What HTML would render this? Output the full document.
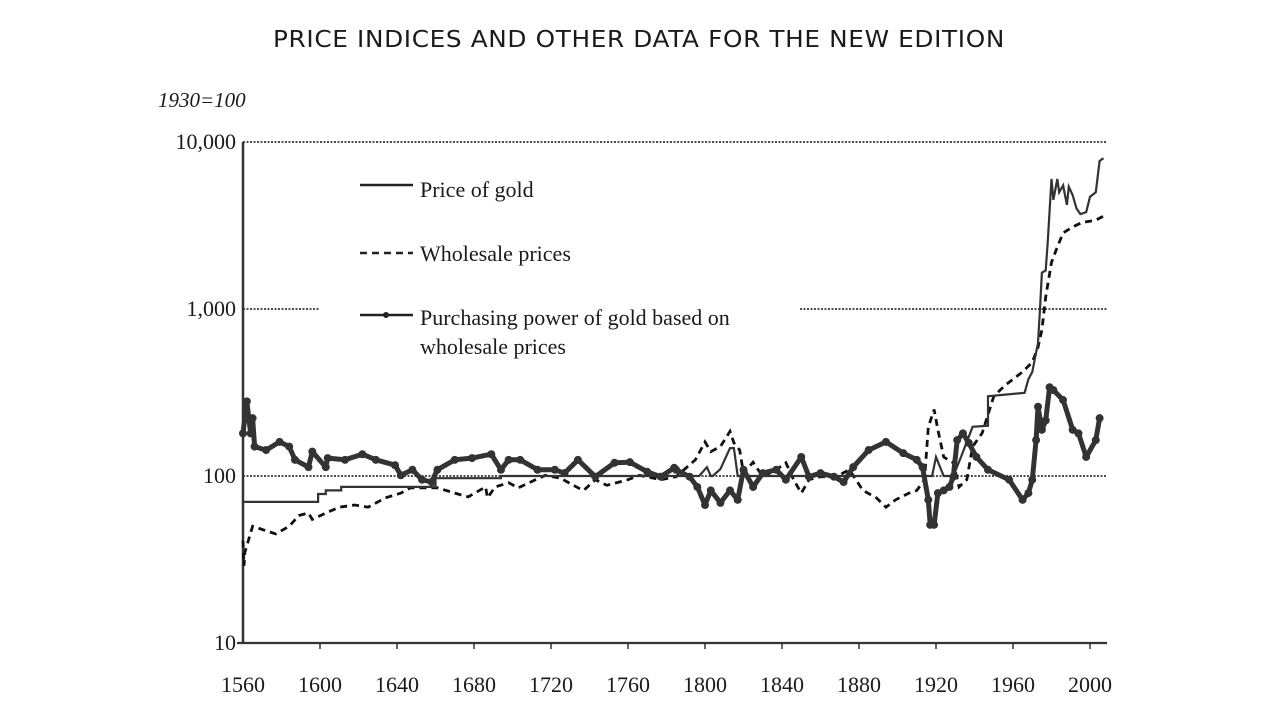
<!DOCTYPE html>
<html><head><meta charset="utf-8">
<style>
html,body{margin:0;padding:0;background:#fff;}
svg{display:block;}
.s{font-family:"Liberation Serif",serif;fill:#1a1a1a;}
</style></head>
<body>
<svg id="chart" width="1280" height="720" viewBox="0 0 1280 720">
<text x="639" y="47" text-anchor="middle" font-family="'DejaVu Sans','Liberation Sans',sans-serif" font-size="23" letter-spacing="0.6" fill="#1a1a1a" textLength="732" lengthAdjust="spacingAndGlyphs">PRICE INDICES AND OTHER DATA FOR THE NEW EDITION</text>
<text x="158" y="107" class="s" font-size="21" font-style="italic">1930=100</text>
<g id="grid"></g>
<g id="axes"></g>
<g id="series"></g>
<g>
  <line x1="360" y1="185" x2="413" y2="185" stroke="#222" stroke-width="2.5"/>
  <text x="420" y="197" class="s" font-size="22">Price of gold</text>
  <line x1="360" y1="253" x2="413" y2="253" stroke="#222" stroke-width="2.5" stroke-dasharray="7,5"/>
  <text x="420" y="261" class="s" font-size="22">Wholesale prices</text>
  <line x1="360" y1="315" x2="413" y2="315" stroke="#222" stroke-width="2.5"/>
  <circle cx="386" cy="315" r="3" fill="#222"/>
  <text x="420" y="325" class="s" font-size="22">Purchasing power of gold based on</text>
  <text x="420" y="354" class="s" font-size="22">wholesale prices</text>
</g>
</svg>
<script>
const xTicks = [1560,1600,1640,1680,1720,1760,1800,1840,1880,1920,1960,2000];
const yTicks = [10,100,1000,10000];
const yTickLabels = ["10","100","1,000","10,000"];

const goldYears = [1560,1599,1599,1603,1603,1611,1611,1660,1660,1694,1694,1797,1801,1803,1804,1808,1813,1815,1817,1918,1920,1924,1929,1933,1939,1947,1947,1966,1968,1970,1972,1973,1974,1975,1977,1978,1980,1981,1983,1984,1986,1988,1989,1991,1993,1995,1998,2000,2003,2005,2007];
const goldValues = [70,70,78,78,82,82,86,86,97,97,100,100,113,100,100,110,147,147,100,100,130,100,100,130,197,200,300,315,380,420,550,625,1000,1650,1700,2500,6000,4500,6000,5000,5500,4200,5400,4800,4000,3700,3800,4700,5000,7700,8000];

const wsYears = [1560,1560.5,1561,1565,1577,1584,1589,1594,1596,1603,1610,1618,1625,1634,1642,1647,1661,1670,1677,1686,1687,1691,1698,1703,1712,1717,1725,1734,1737,1743,1749,1760,1766,1777,1785,1795,1800,1803,1808,1813,1815,1818,1820,1825,1830,1837,1842,1846,1850,1854,1860,1868,1875,1882,1889,1894,1899,1906,1910,1914,1916,1919,1921,1924,1929,1932,1936,1939,1944,1950,1956,1965,1970,1973,1975,1977,1980,1983,1986,1991,1996,2003,2007];
const wsValues = [41,29,35,50,45,50,58,60,55,60,65,67,65,74,79,85,85,79,75,86,74,86,91,85,95,101,97,85,82,95,88,95,101,95,99,125,160,140,150,185,158,143,104,121,99,109,120,95,79,95,99,99,109,82,74,65,72,79,82,95,196,250,189,130,120,86,95,150,181,300,350,420,480,590,750,1180,1900,2350,2850,3100,3300,3400,3600];

const ppYears = [1560,1562,1564,1565,1566,1572,1579,1584,1587,1594,1596,1603,1604,1613,1622,1629,1639,1642,1648,1653,1658,1661,1670,1679,1689,1694,1698,1704,1713,1722,1727,1734,1743,1753,1761,1770,1777,1784,1785,1792,1796,1800,1803,1808,1813,1817,1820,1825,1830,1837,1842,1850,1854,1860,1867,1872,1877,1885,1894,1903,1910,1913,1916,1917,1919,1921,1924,1927,1929,1931,1934,1937,1941,1947,1958,1965,1968,1970,1972,1973,1975,1977,1979,1981,1986,1991,1994,1998,2003,2005];
const ppValues = [180,280,180,222,150,143,160,150,125,113,140,113,128,125,135,125,116,101,109,95,92,109,125,128,135,109,125,125,109,109,104,125,99,120,121,106,99,112,109,99,86,67,82,69,82,72,109,86,104,109,95,130,99,104,99,92,113,143,160,137,125,113,72,51,51,79,82,86,99,164,180,158,130,109,95,72,79,95,164,260,189,215,340,327,285,189,180,130,164,222];

const X0=243, PXY=1.925, Y100=476, DEC=167;
function xs(yr){return X0+(yr-1560)*PXY;}
function ys(v){return Y100-DEC*Math.log10(v/100);}
const NS="http://www.w3.org/2000/svg";
function mk(tag,attrs,parent){const e=document.createElementNS(NS,tag);for(const k in attrs)e.setAttribute(k,attrs[k]);parent.appendChild(e);return e;}

const grid=document.getElementById('grid');
const axes=document.getElementById('axes');
const series=document.getElementById('series');
const xEnd=1107;

let g1=mk('line',{x1:X0,x2:xEnd,y1:ys(10000),y2:ys(10000),stroke:'#333','stroke-width':1.8,'stroke-dasharray':'2,1.5'},grid);


let g2=mk('line',{x1:X0,x2:320,y1:ys(1000),y2:ys(1000),stroke:'#333','stroke-width':1.8,'stroke-dasharray':'2,1.5'},grid);


let g3=mk('line',{x1:800,x2:xEnd,y1:ys(1000),y2:ys(1000),stroke:'#333','stroke-width':1.8,'stroke-dasharray':'2,1.5'},grid);


let g4=mk('line',{x1:X0,x2:xEnd,y1:ys(100),y2:ys(100),stroke:'#333','stroke-width':1.8,'stroke-dasharray':'2,1.5'},grid);



let ya=mk('line',{x1:X0,x2:X0,y1:ys(10000),y2:ys(10),stroke:'#333','stroke-width':2.5},axes);


let xa=mk('line',{x1:X0-6,x2:xEnd,y1:ys(10),y2:ys(10),stroke:'#333','stroke-width':2.2},axes);


xTicks.forEach((t,i)=>{
  if(i>0){
    const tk=mk('line',{x1:xs(t),x2:xs(t),y1:ys(10),y2:ys(10)+6,stroke:'#333','stroke-width':1.5},axes);
    
    
  }
  const lb=mk('text',{x:xs(t),y:692,'text-anchor':'middle','font-size':22,class:'s'},axes);
  lb.textContent=t;
  
  
});
yTicks.forEach((t,i)=>{
  const lb=mk('text',{x:236,y:ys(t)+7,'text-anchor':'end','font-size':22,class:'s'},axes);
  lb.textContent=yTickLabels[i];
  
  
});

function pts(yrs,vals){return yrs.map((y,i)=>xs(y).toFixed(1)+','+ys(vals[i]).toFixed(1)).join(' ');}

const ws=mk('polyline',{points:pts(wsYears,wsValues),fill:'none',stroke:'#111','stroke-width':2.8,'stroke-dasharray':'7,5'},series);



const gold=mk('polyline',{points:pts(goldYears,goldValues),fill:'none',stroke:'#333','stroke-width':2.2},series);



const pp=mk('polyline',{points:pts(ppYears,ppValues),fill:'none',stroke:'#333','stroke-width':5,'stroke-linejoin':'round'},series);


ppYears.forEach((y,i)=>{
  const c=mk('circle',{cx:xs(y),cy:ys(ppValues[i]),r:4,fill:'#333'},series);
  
  
});
</script>
</body></html>
